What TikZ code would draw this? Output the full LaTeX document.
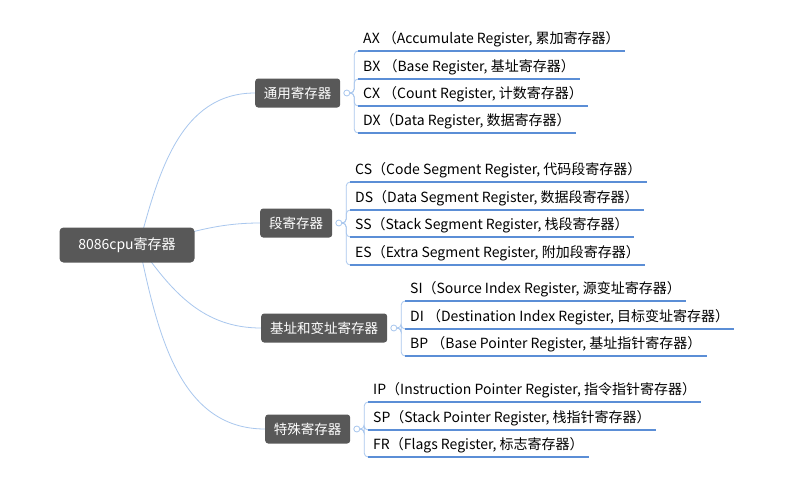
\documentclass[tikz,border=0pt]{standalone}
\usepackage{fontspec}
\setmainfont{Noto Sans CJK SC}
\usepackage{tikz}
\usetikzlibrary{positioning,backgrounds}
\definecolor{boxgray}{HTML}{585858}
\definecolor{stemblue}{HTML}{A9C7EE}
\definecolor{rowblue}{HTML}{5B8ED6}

\tikzset{
  rootbox/.style={rounded corners=4pt,fill=boxgray,text=white,minimum width=135pt,minimum height=35pt,font=\fontsize{14}{16}\selectfont},
  groupbox/.style={rounded corners=3pt,fill=boxgray,text=white,minimum height=29pt,inner xsep=0pt,anchor=west,font=\fontsize{13.5}{15}\selectfont},
  knob/.style={circle,draw=stemblue,fill=white,line width=0.8pt,inner sep=0pt,minimum size=6pt},
  row/.style={anchor=south west,inner xsep=5pt,inner ysep=4pt,font=\fontsize{14}{16}\selectfont},
  stem/.style={draw=stemblue,line width=0.8pt},
  twig/.style={draw=stemblue,line width=0.8pt,rounded corners=4pt},
  rule/.style={draw=rowblue,line width=1.6pt}
}

\begin{document}
\begin{tikzpicture}[x=1pt,y=-1pt]
\useasboundingbox (0,0) rectangle (790,477);

\node[rootbox] (cpu) at (127,245) {8086cpu寄存器};
\node[groupbox,minimum width=85pt] (gen) at (255,93) {通用寄存器};
\node[groupbox,minimum width=72pt] (seg) at (260,223) {段寄存器};
\node[groupbox,minimum width=126pt] (idx) at (261,328) {基址和变址寄存器};
\node[groupbox,minimum width=85pt] (spc) at (265,429) {特殊寄存器};

\node[knob,right=3pt of gen] (genk) {};
\node[knob,right=3pt of seg] (segk) {};
\node[knob,right=3pt of idx] (idxk) {};
\node[knob,right=3pt of spc] (spck) {};

\node[row] (ax) at (358,51) {AX （Accumulate Register, 累加寄存器）};
\node[row] (bx) at (358,79) {BX （Base Register, 基址寄存器）};
\node[row] (cx) at (358,106) {CX （Count Register, 计数寄存器）};
\node[row] (dx) at (358,133) {DX（Data Register, 数据寄存器）};

\node[row] (cs) at (350,182) {CS（Code Segment Register, 代码段寄存器）};
\node[row] (ds) at (350,210) {DS（Data Segment Register, 数据段寄存器）};
\node[row] (ss) at (350,237) {SS（Stack Segment Register, 栈段寄存器）};
\node[row] (es) at (350,265) {ES（Extra Segment Register, 附加段寄存器）};

\node[row] (si) at (405,301) {SI（Source Index Register, 源变址寄存器）};
\node[row] (di) at (405,329) {DI （Destination Index Register, 目标变址寄存器）};
\node[row] (bp) at (405,356) {BP （Base Pointer Register, 基址指针寄存器）};

\node[row] (ip) at (368,402) {IP（Instruction Pointer Register, 指令指针寄存器）};
\node[row] (sp) at (368,430) {SP（Stack Pointer Register, 栈指针寄存器）};
\node[row] (fr) at (368,457) {FR（Flags Register, 标志寄存器）};

\begin{scope}[on background layer]
\fill[white] (0,0) rectangle (790,477);
\draw[stem] ([xshift=12pt]cpu.center) to[out=75,in=180] (gen.west);
\draw[stem] ([xshift=12pt]cpu.center) to[out=12,in=180] (seg.west);
\draw[stem] ([xshift=12pt]cpu.center) to[out=-55,in=180] (idx.west);
\draw[stem] ([xshift=12pt]cpu.center) to[out=-78,in=180] (spc.west);
\end{scope}

\foreach \r in {ax,bx,cx,dx} \draw[twig] (genk.east) -- ++(4,0) |- (\r.south west);
\foreach \r in {cs,ds,ss,es} \draw[twig] (segk.east) -- ++(4,0) |- (\r.south west);
\foreach \r in {si,di,bp} \draw[twig] (idxk.east) -- ++(4,0) |- (\r.south west);
\foreach \r in {ip,sp,fr} \draw[twig] (spck.east) -- ++(4,0) |- (\r.south west);

\foreach \r in {ax,bx,cx,dx,cs,ds,ss,es,si,di,bp,ip,sp,fr}
  \draw[rule] (\r.south west) -- (\r.south east);
\end{tikzpicture}
\end{document}
